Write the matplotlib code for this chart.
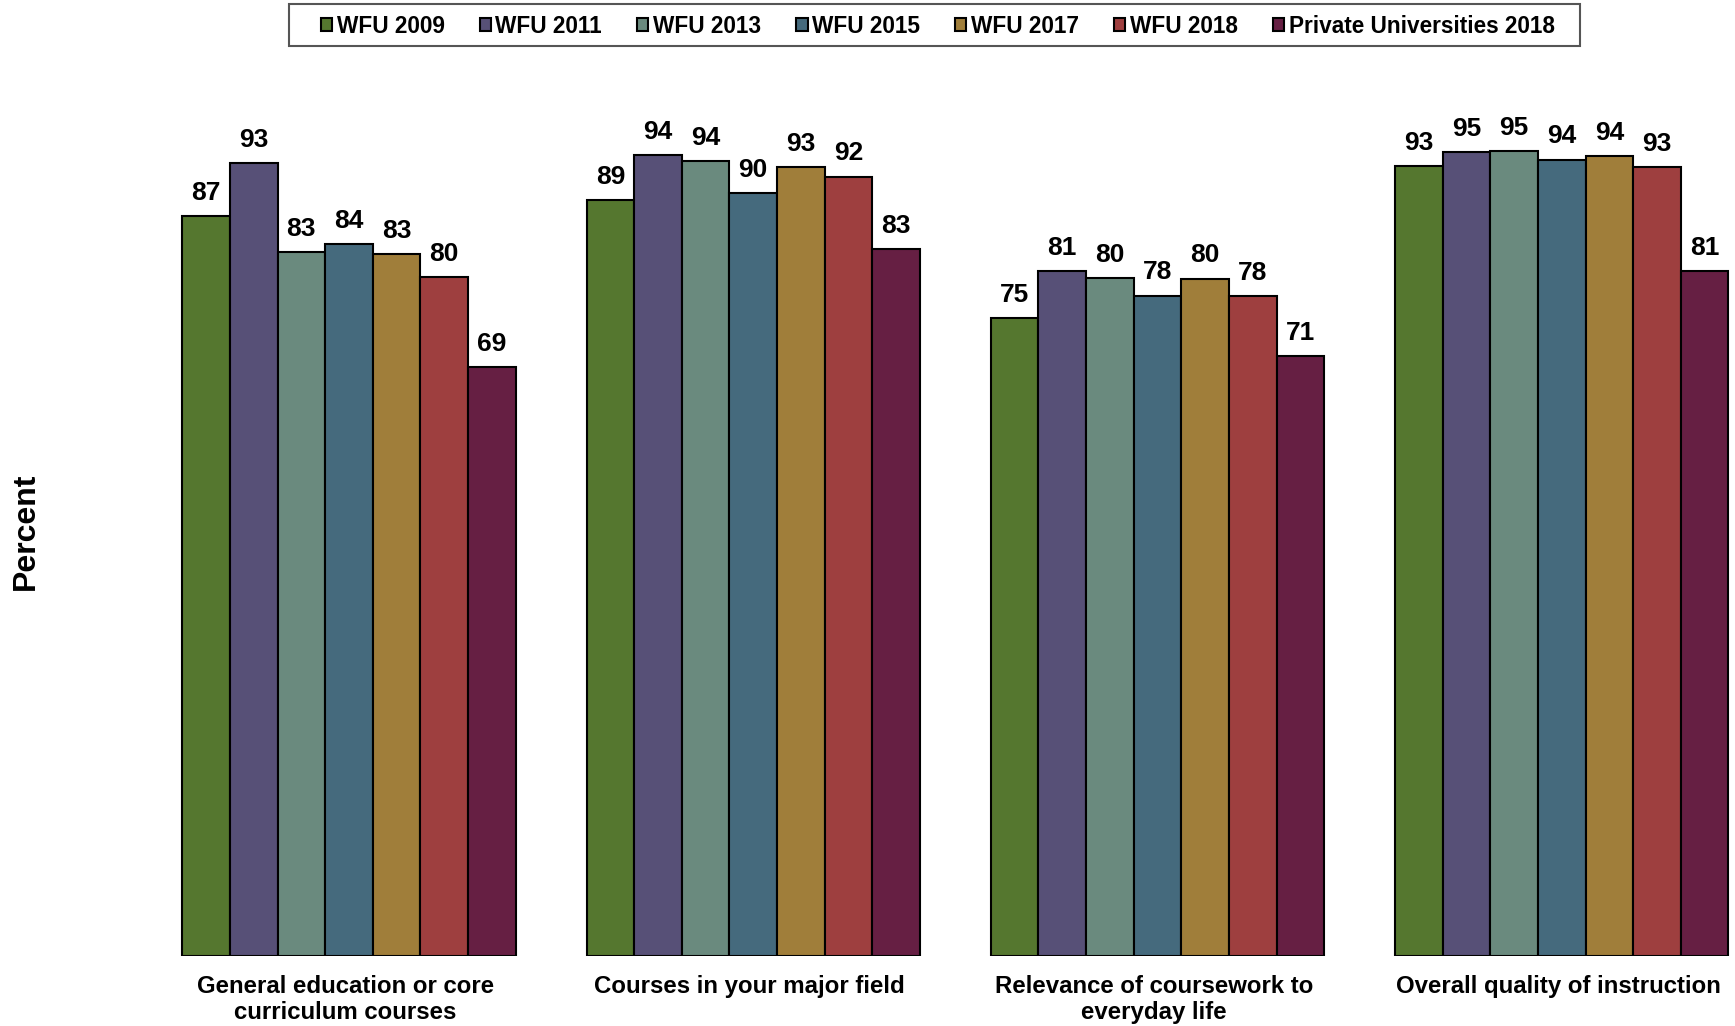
import numpy as np
import matplotlib.pyplot as plt
import matplotlib.transforms as mtransforms
from matplotlib.patches import Rectangle

# data (bar heights are unrounded, labels are rounded)
categories = ["General education or core\ncurriculum courses",
              "Courses in your major field",
              "Relevance of coursework to\neveryday life",
              "Overall quality of instruction"]
series = ["WFU 2009", "WFU 2011", "WFU 2013", "WFU 2015", "WFU 2017", "WFU 2018",
          "Private Universities 2018"]
wfu_2009 = [87.0, 88.9, 75.0, 92.9]
wfu_2011 = [93.3, 94.2, 80.6, 94.55]
wfu_2013 = [82.8, 93.5, 79.8, 94.7]
wfu_2015 = [83.8, 89.8, 77.7, 93.7]
wfu_2017 = [82.6, 92.8, 79.7, 94.1]
wfu_2018 = [79.9, 91.7, 77.6, 92.8]
private_2018 = [69.3, 83.2, 70.6, 80.55]
colors = ["#55772F", "#575077", "#6A8A7E", "#456A7D", "#A07E3A", "#9E3F3F", "#661F43"]

values = [wfu_2009, wfu_2011, wfu_2013, wfu_2015, wfu_2017, wfu_2018, private_2018]

plt.rcParams['font.family'] = ['Liberation Sans', 'DejaVu Sans']
plt.rcParams['font.weight'] = 'bold'

fig = plt.figure(figsize=(17.35, 10.26), dpi=100)
ax = fig.add_axes([0.0963, 0.0682, 0.9017, 0.8285])

x = np.arange(len(categories))
width = 0.1178
for i, (name, vals) in enumerate(zip(series, values)):
    pos = x + (i - 3) * width
    bars = ax.bar(pos, vals, width, color=colors[i], edgecolor='black',
                  linewidth=1.5, label=name)
    for b, v in zip(bars, vals):
        ax.annotate(f"{v:.0f}", (b.get_x() + b.get_width() / 2, v),
                    xytext=(0, 8), textcoords='offset points',
                    ha='center', va='bottom', fontsize=19, fontweight='bold')

ax.set_xlim(-0.45, 3.42)
ax.set_ylim(0, 100)
for s in ax.spines.values():
    s.set_visible(False)
ax.set_yticks([])
ax.set_xticks(x)
ax.set_xticklabels(categories, fontsize=17.3, fontweight='bold', linespacing=1.15)
ax.tick_params(axis='x', length=0, pad=14)
# labels sit a few pixels left of the group centres in the original
shift = mtransforms.ScaledTranslation(-3.5 / 100, 0, fig.dpi_scale_trans)
for lbl in ax.get_xticklabels():
    lbl.set_transform(lbl.get_transform() + shift)

fig.text(26 / 1735, 0.4825, "Percent", rotation=90, ha='center', va='center',
         fontsize=23, fontweight='bold')

# legend without its own frame; the box is drawn separately (wider padding in the original)
leg = fig.legend(loc='center', bbox_to_anchor=(0.5405, 0.9745), ncol=7,
                 fontsize=16.3, frameon=False,
                 handlelength=0.5, handleheight=0.5, handletextpad=0.2,
                 columnspacing=1.55, borderpad=0.3)
box = Rectangle((289 / 1735, 1 - 46 / 1026), (1580 - 289) / 1735, 41.6 / 1026,
                transform=fig.transFigure, fill=False, edgecolor='#555555',
                linewidth=1.5)
fig.patches.append(box)

fig.savefig("out.png", dpi=100)
